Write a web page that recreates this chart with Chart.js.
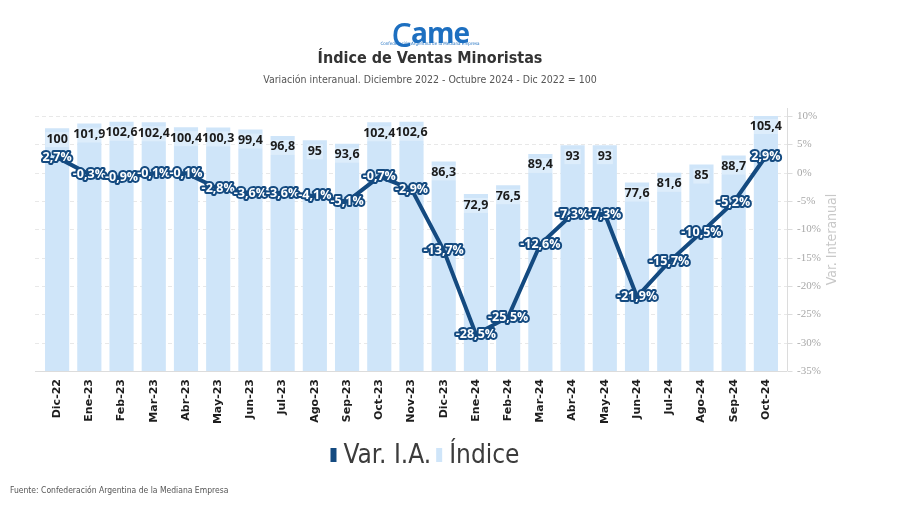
<!DOCTYPE html>
<html>
<head>
<meta charset="utf-8">
<script src="https://cdn.jsdelivr.net/npm/chart.js@4.4.1/dist/chart.umd.min.js"></script>
<style>
  body { margin: 0; background: #fff; }
  #page { position: relative; width: 900px; height: 505px; overflow: hidden; font-family: "Liberation Sans Narrow", "DejaVu Sans Condensed", "Open Sans", sans-serif; }
  #myChart { position: absolute; left: 0; top: 0; }
  .head { position: absolute; left: 0; width: 860px; text-align: center; }
  .logo { top: 0px; font: bold 28px "Open Sans", sans-serif; color: #1d6fc0; letter-spacing: -1px; }
  .logo .c { font-size: 44px; font-weight: normal; vertical-align: -4px; }
  .logoSub { top: 41px; font-size: 4.5px; color: #1d6fc0; }
  .title { top: 48px; font-weight: bold; font-size: 16px; color: #333; }
  .subtitle { top: 73px; font-size: 10.5px; color: #555; }
  .foot { position: absolute; left: 10px; top: 485px; font-size: 8.5px; color: #555; }
</style>
</head>
<body>
<div id="page">
  <canvas id="myChart" width="900" height="505"></canvas>
  <div class="head logo"><span class="c">c</span>ame</div>
  <div class="head logoSub">Confederación Argentina de la Mediana Empresa</div>
  <div class="head title">Índice de Ventas Minoristas</div>
  <div class="head subtitle">Variación interanual. Diciembre 2022 - Octubre 2024 - Dic 2022 = 100</div>
  <div class="foot">Fuente: Confederación Argentina de la Mediana Empresa</div>
</div>
<script>
const months = ["Dic-22", "Ene-23", "Feb-23", "Mar-23", "Abr-23", "May-23", "Jun-23", "Jul-23", "Ago-23", "Sep-23", "Oct-23", "Nov-23",
  "Dic-23", "Ene-24", "Feb-24", "Mar-24", "Abr-24", "May-24", "Jun-24", "Jul-24", "Ago-24", "Sep-24", "Oct-24"];
const indice = [100, 101.9, 102.6, 102.4, 100.4, 100.3, 99.4, 96.8, 95, 93.6, 102.4, 102.6,
  86.3, 72.9, 76.5, 89.4, 93, 93, 77.6, 81.6, 85, 88.7, 105.4];
const varIA = [2.7, -0.3, -0.9, -0.1, -0.1, -2.8, -3.6, -3.6, -4.1, -5.1, -0.7, -2.9,
  -13.7, -28.5, -25.5, -12.6, -7.3, -7.3, -21.9, -15.7, -10.5, -5.2, 2.9];
const pctTicks = [10, 5, 0, -5, -10, -15, -20, -25, -30, -35];

const navy = "#144a80";
const lightBlue = "#cfe5f9";
const narrow = '"Liberation Sans Narrow", "DejaVu Sans Condensed", "Open Sans", sans-serif';

const fmt = (v) => String(v).replace(".", ",");

const labelPlugin = {
  id: "labelPlugin",
  beforeDatasetsDraw(chart) {
    const { ctx, chartArea, scales } = chart;
    const axisX = chartArea.right + 5;
    ctx.save();
    ctx.lineWidth = 1;
    for (let v of pctTicks) {
      const y = Math.round(scales.y1.getPixelForValue(v)) + 0.5;
      ctx.strokeStyle = v === -35 ? "#dcdcdc" : "#e8e8e8";
      ctx.setLineDash(v === -35 ? [] : [4, 3]);
      ctx.beginPath();
      ctx.moveTo(35, y);
      ctx.lineTo(axisX, y);
      ctx.stroke();
    }
    ctx.restore();
  },
  afterDatasetsDraw(chart) {
    const { ctx } = chart;
    ctx.save();
    ctx.textAlign = "center";
    ctx.textBaseline = "middle";

    // bar labels
    const barMeta = chart.getDatasetMeta(1);
    ctx.font = 'bold 12.5px "Open Sans", sans-serif';
    barMeta.data.forEach((bar, i) => {
      const t = fmt(indice[i]);
      const w = ctx.measureText(t).width;
      ctx.fillStyle = "rgba(255,255,255,0.3)";
      ctx.fillRect(bar.x - w / 2 - 1, bar.y + 4, w + 2, 15);
      ctx.fillStyle = "#1b1b1b";
      ctx.fillText(t, bar.x, bar.y + 11);
    });

    // line labels
    const lineMeta = chart.getDatasetMeta(0);
    ctx.font = 'bold 12.5px "Open Sans", sans-serif';
    ctx.lineJoin = "round";
    lineMeta.data.forEach((pt, i) => {
      const t = fmt(varIA[i]) + "%";
      ctx.lineWidth = 4;
      ctx.strokeStyle = navy;
      ctx.strokeText(t, pt.x, pt.y);
      ctx.fillStyle = "#fff";
      ctx.fillText(t, pt.x, pt.y);
    });
    ctx.restore();
  },
  afterDraw(chart) {
    const { ctx, chartArea, scales } = chart;
    const axisX = chartArea.right + 5.5;
    ctx.save();
    // right axis line and ticks
    ctx.strokeStyle = "#dcdcdc";
    ctx.lineWidth = 1;
    ctx.beginPath();
    ctx.moveTo(axisX, chartArea.top - 8);
    ctx.lineTo(axisX, chartArea.bottom);
    for (let v of pctTicks) {
      const y = Math.round(scales.y1.getPixelForValue(v)) + 0.5;
      ctx.moveTo(axisX, y);
      ctx.lineTo(axisX + 5, y);
    }
    ctx.stroke();

    // right axis title
    ctx.translate(832, (chartArea.top + chartArea.bottom) / 2 - 4);
    ctx.rotate(-Math.PI / 2);
    ctx.font = "14px " + narrow;
    ctx.fillStyle = "#c8c8c8";
    ctx.textAlign = "center";
    ctx.textBaseline = "middle";
    ctx.fillText("Var. Interanual", 0, 0);
    ctx.setTransform(1, 0, 0, 1, 0, 0);

    // legend
    ctx.font = "26px " + narrow;
    ctx.textBaseline = "middle";
    ctx.textAlign = "left";
    const items = chart.data.datasets.map((d) => ({ label: d.label, color: d.backgroundColor }));
    const boxW = 6, gapText = 7, gapItem = 5;
    let total = 0;
    items.forEach((it, i) => {
      it.w = ctx.measureText(it.label).width;
      total += boxW + gapText + it.w + (i ? gapItem : 0);
    });
    let x = 425 - total / 2;
    const ly = 455;
    items.forEach((it, i) => {
      if (i) x += gapItem;
      ctx.fillStyle = it.color;
      ctx.fillRect(x, ly - 7, boxW, 14);
      x += boxW + gapText;
      ctx.fillStyle = "#3c3c3c";
      ctx.fillText(it.label, x, ly + 1);
      x += it.w;
    });
    ctx.restore();
  },
};

const data = {
  labels: months,
  datasets: [
    {
      type: "line",
      label: "Var. I.A.",
      data: varIA,
      yAxisID: "y1",
      borderColor: navy,
      backgroundColor: navy,
      borderWidth: 4,
      pointRadius: 0,
      tension: 0,
    },
    {
      type: "bar",
      label: "Índice",
      data: indice,
      yAxisID: "y",
      backgroundColor: lightBlue,
      borderWidth: 0,
      categoryPercentage: 1,
      barPercentage: 0.75,
    },
  ],
};

const config = {
  type: "bar",
  data,
  options: {
    responsive: false,
    animation: false,
    devicePixelRatio: 1,
    layout: { padding: { left: 41, right: 48, top: 116, bottom: 74 } },
    plugins: {
      legend: { display: false },
      tooltip: { enabled: false },
    },
    scales: {
      x: {
        grid: { display: false, drawTicks: false },
        border: { display: false },
        ticks: {
          minRotation: 90,
          maxRotation: 90,
          autoSkip: false,
          padding: 8,
          color: "#1e1e1e",
          font: { family: "DejaVu Sans", weight: "bold", size: 11 },
        },
        afterFit(scale) {
          scale.height = 60;
        },
      },
      y: {
        display: false,
        min: 0,
        max: 105,
      },
      y1: {
        position: "right",
        min: -35,
        max: 10,
        grid: { display: false, drawTicks: false },
        border: { display: false },
        ticks: {
          stepSize: 5,
          padding: 15,
          color: "#a8a8a8",
          font: { family: "Liberation Sans Narrow", size: 11 },
          callback: (v) => v + "%",
        },
        afterFit(scale) {
          scale.width = 70;
        },
      },
    },
  },
  plugins: [labelPlugin],
};

let myChart = new Chart(document.getElementById("myChart"), config);
</script>
</body>
</html>
